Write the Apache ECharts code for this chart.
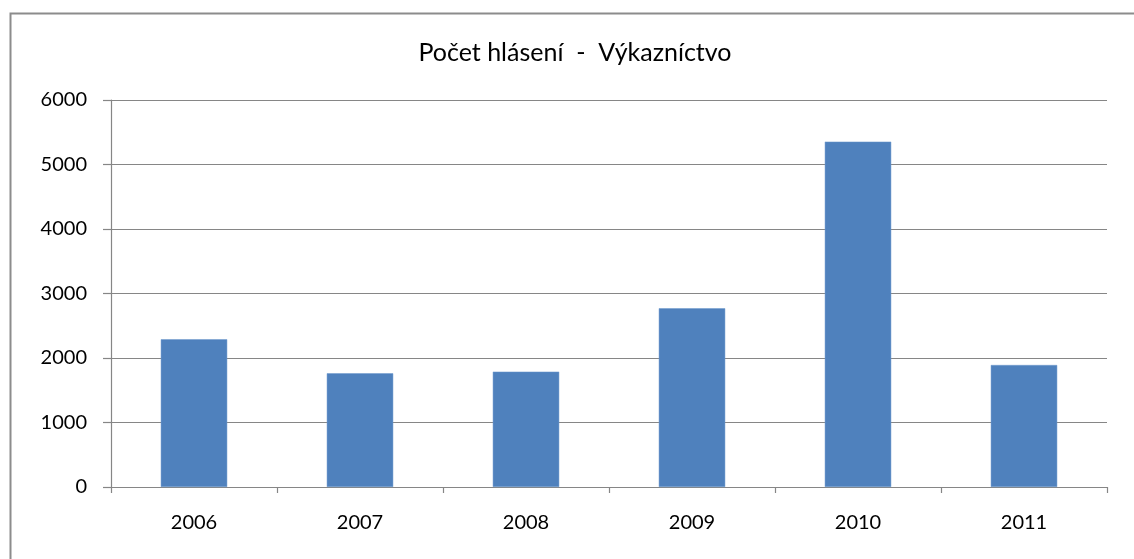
<!DOCTYPE html>
<html>
<head>
<meta charset="utf-8">
<script src="https://cdn.jsdelivr.net/npm/echarts@6/dist/echarts.min.js"></script>
<style>
	html, body { margin: 0; padding: 0; background: #fff; }
	#chart { width: 1134px; height: 559px; }
</style>
</head>
<body>
<div id="chart"></div>
<script>
const years = ['2006', '2007', '2008', '2009', '2010', '2011'];
const reports = [2290, 1763, 1788, 2771, 5354, 1891];
const titleText = 'Počet hlásení  -  Výkazníctvo';

const chart = echarts.init(document.getElementById('chart'), null, { renderer: 'canvas' });

chart.setOption({
	animation: false,
	backgroundColor: '#fff',
	title: {
		text: titleText,
		left: 570,
		top: 35,
		textAlign: 'center',
		textStyle: {
			fontFamily: 'Lato, sans-serif',
			fontSize: 25,
			fontWeight: 400,
			color: '#000'
		}
	},
	graphic: [
		{
			// outer frame
			type: 'rect',
			shape: { x: 10.5, y: 13.5, width: 1200, height: 600 },
			style: { fill: 'none', stroke: '#8c8c8c', lineWidth: 2 },
			silent: true
		}
	],
	grid: {
		left: 111,
		right: 27,
		top: 100,
		bottom: 72
	},
	xAxis: {
		type: 'category',
		data: years,
		axisLine: { lineStyle: { color: '#868686', width: 1.2 } },
		axisTick: { show: true, length: 6, lineStyle: { color: '#868686', width: 1.2 } },
		axisLabel: {
			margin: 26,
			fontFamily: 'Lato, sans-serif',
			fontSize: 20,
			color: '#000'
		}
	},
	yAxis: {
		type: 'value',
		min: 0,
		max: 6000,
		interval: 1000,
		axisLine: { show: true, lineStyle: { color: '#868686', width: 1.2 } },
		axisTick: { show: true, length: 8, lineStyle: { color: '#868686', width: 1.2 } },
		axisLabel: {
			margin: 24,
			formatter: (value) => String(value),
			fontFamily: 'Lato, sans-serif',
			fontSize: 20,
			color: '#000'
		},
		splitLine: { lineStyle: { color: '#868686', width: 1.2 } }
	},
	series: [
		{
			type: 'bar',
			data: reports,
			barWidth: '40%',
			itemStyle: {
				color: '#4f81bd',
				borderColor: '#6d98cc',
				borderWidth: 0.5
			}
		}
	]
});
</script>
</body>
</html>
